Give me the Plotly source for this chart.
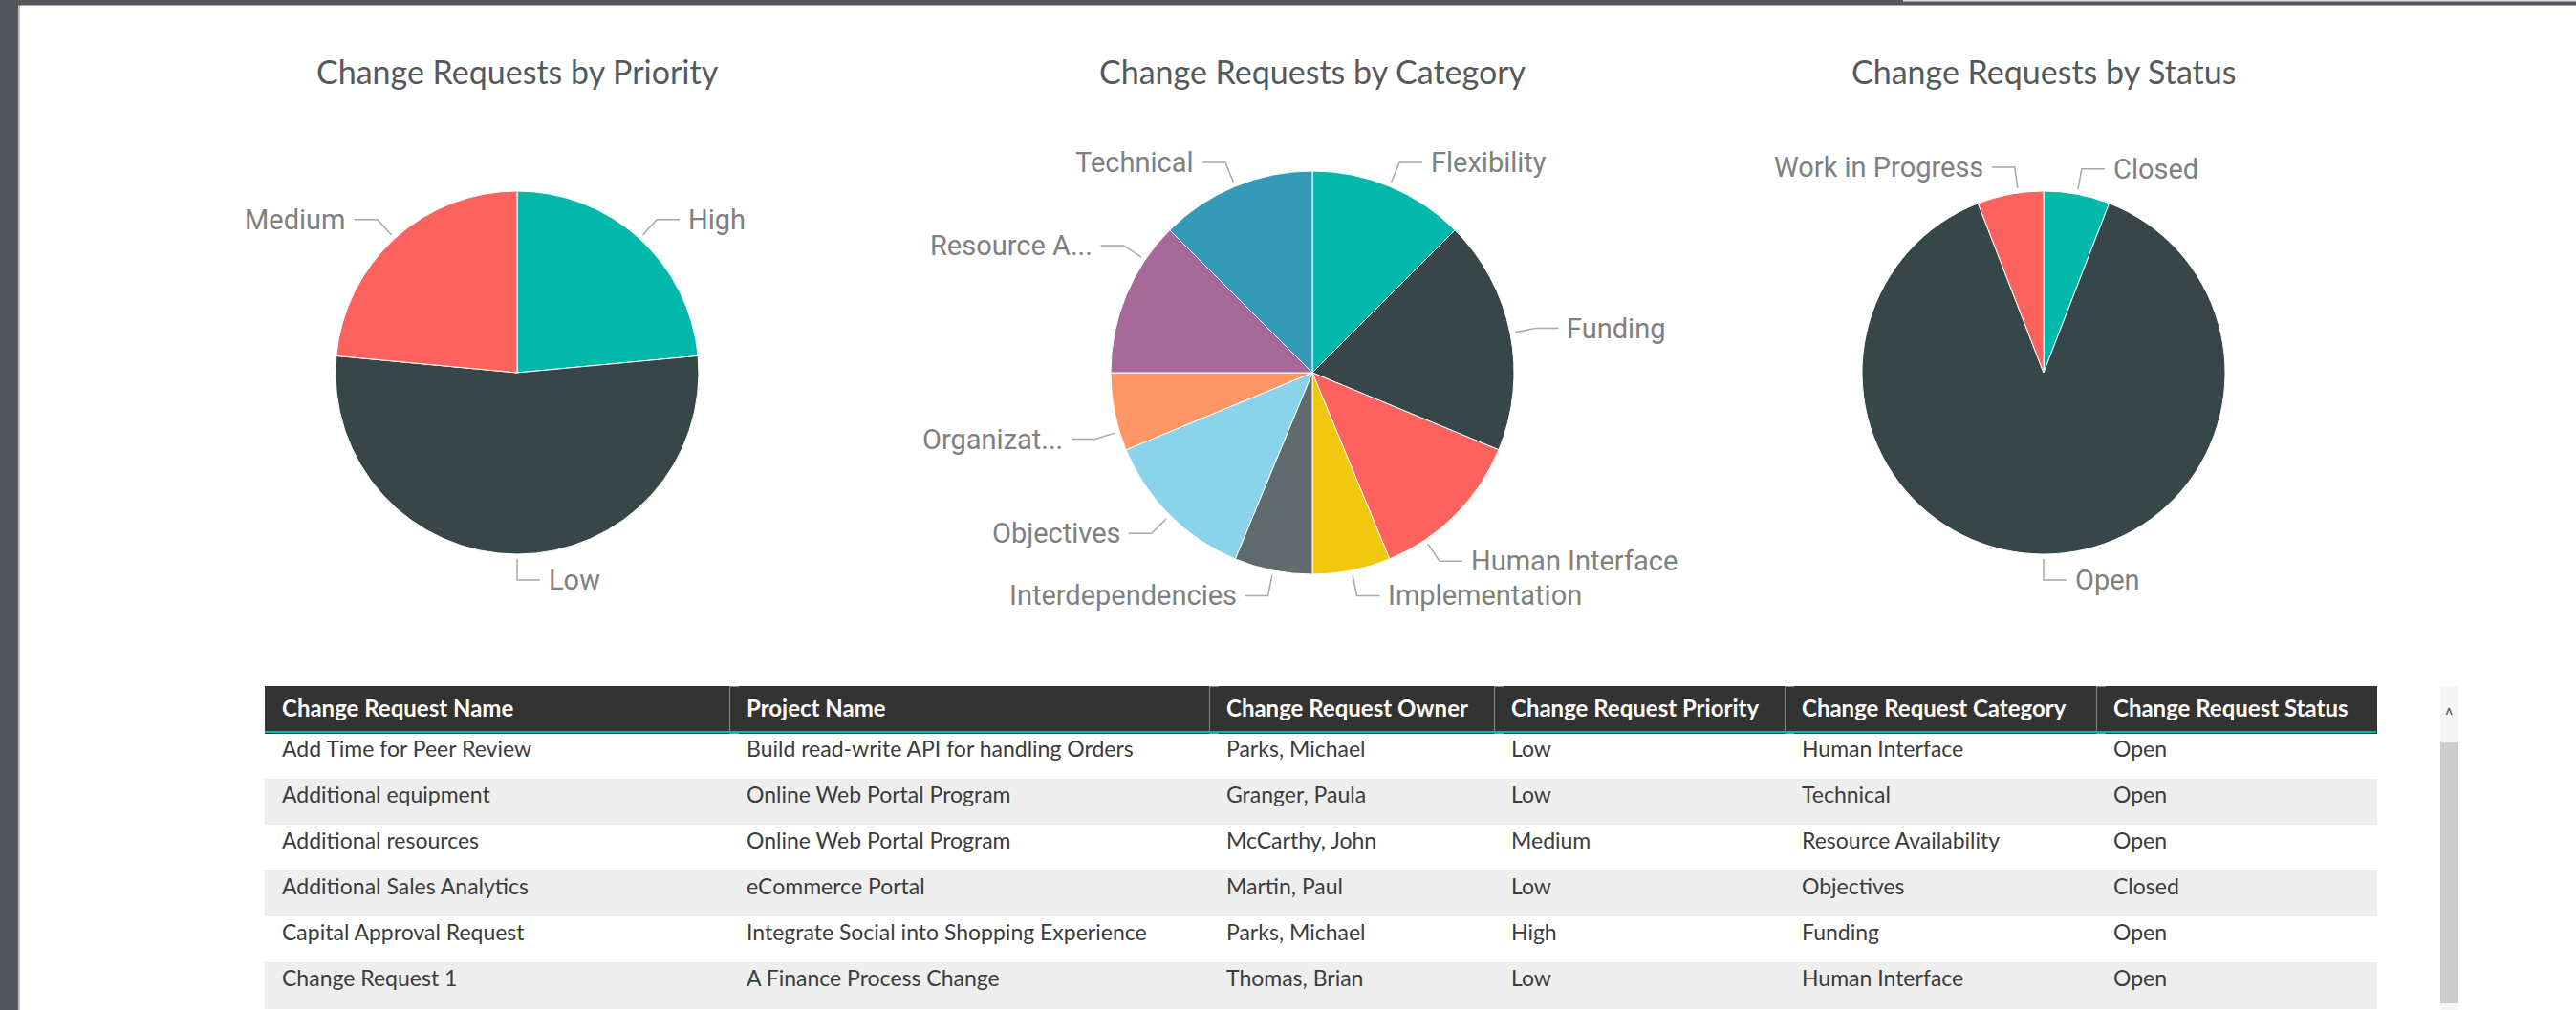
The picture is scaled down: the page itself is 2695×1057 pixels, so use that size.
import math
import plotly.graph_objects as go

W, H = 2695, 1057

# ---------------- data ----------------
priority_labels = ["High", "Low", "Medium"]
priority_counts = [4, 9, 4]

category_labels = ["Flexibility", "Funding", "Human Interface", "Implementation",
                   "Interdependencies", "Objectives", "Organizational",
                   "Resource Availability", "Technical"]
category_counts = [2, 3, 2, 1, 1, 2, 1, 2, 2]

status_labels = ["Closed", "Open", "Work in Progress"]
status_counts = [1, 15, 1]

table_headers = ["Change Request Name", "Project Name", "Change Request Owner",
                 "Change Request Priority", "Change Request Category", "Change Request Status"]
cr_names = ["Add Time for Peer Review", "Additional equipment", "Additional resources",
            "Additional Sales Analytics", "Capital Approval Request", "Change Request 1"]
projects = ["Build read-write API for handling Orders", "Online Web Portal Program",
            "Online Web Portal Program", "eCommerce Portal",
            "Integrate Social into Shopping Experience", "A Finance Process Change"]
owners = ["Parks, Michael", "Granger, Paula", "McCarthy, John", "Martin, Paul",
          "Parks, Michael", "Thomas, Brian"]
priorities = ["Low", "Low", "Medium", "Low", "High", "Low"]
categories = ["Human Interface", "Technical", "Resource Availability", "Objectives",
              "Funding", "Human Interface"]
statuses = ["Open", "Open", "Open", "Closed", "Open", "Open"]

# ---------------- styles ----------------
PAL = ["#01B8AA", "#374649", "#FD625E", "#F2C80F", "#5F6B6D",
       "#8AD4EB", "#FE9666", "#A66999", "#3599B8"]
TITLE_FONT = dict(family="Segoe UI, Lato, sans-serif", size=34, color="#55595b")
LABEL_FONT = dict(family="DIN, Roboto, sans-serif", size=29, color="#808080")
LINE_COLOR = "#a8a8a8"
FRAME = "#53575c"
HEADER_BG = "#333333"
HEADER_SEP = "#8a8a8a"
ROW_BG = ["#ffffff", "#eeeeee"]

display_names = {"Organizational": "Organizat...", "Resource Availability": "Resource A..."}
angle_override = {"Human Interface": 146, "Resource Availability": 304,
                  "Organizational": 253, "Work in Progress": 352}

pies = [
    dict(title="Change Requests by Priority", labels=priority_labels, values=priority_counts,
         cx=541, cy=390, r=190),
    dict(title="Change Requests by Category", labels=category_labels, values=category_counts,
         cx=1373, cy=390, r=211),
    dict(title="Change Requests by Status", labels=status_labels, values=status_counts,
         cx=2138, cy=390, r=190),
]

fig = go.Figure()

# invisible pixel-space axes for decorations
fig.add_trace(go.Scatter(x=[0, W], y=[0, H], mode="markers", marker=dict(opacity=0),
                         hoverinfo="skip", showlegend=False))

shapes = []
annotations = []


def px(x):
    return x / W


def py(y):
    return 1 - y / H


# white report canvas over the dark frame background
shapes.append(dict(type="rect", xref="paper", yref="paper", layer="below",
                   x0=px(20.5), x1=1, y0=0, y1=py(5.5),
                   fillcolor="white", line=dict(width=0)))
shapes.append(dict(type="rect", xref="paper", yref="paper", layer="below",
                   x0=px(19), x1=px(20.5), y0=0, y1=py(5.5),
                   fillcolor="#c4c4c4", line=dict(width=0)))
shapes.append(dict(type="rect", xref="paper", yref="paper", layer="below",
                   x0=px(1991), x1=1, y0=py(1.5), y1=1,
                   fillcolor="#e8dce6", line=dict(width=0)))

for p in pies:
    cx, cy, r = p["cx"], p["cy"], p["r"]
    dom = dict(x=[(cx - r) / W, (cx + r) / W], y=[1 - (cy + r) / H, 1 - (cy - r) / H])
    fig.add_trace(go.Pie(labels=p["labels"], values=p["values"], sort=False,
                         direction="clockwise", rotation=0,
                         marker=dict(colors=PAL[:len(p["labels"])],
                                     line=dict(color="white", width=1)),
                         textinfo="none", domain=dom, showlegend=False,
                         hoverinfo="label+value+percent"))
    annotations.append(dict(x=cx, y=74, xref="x", yref="y", text=p["title"],
                            showarrow=False, font=TITLE_FONT,
                            xanchor="center", yanchor="middle"))
    total = sum(p["values"])
    cum = 0
    for lab, v in zip(p["labels"], p["values"]):
        mid = (cum + v / 2) / total * 360
        cum += v
        ang = math.radians(angle_override.get(lab, mid))
        sx, sy = cx + (r + 5) * math.sin(ang), cy - (r + 5) * math.cos(ang)
        ex, ey = cx + (r + 27) * math.sin(ang), cy - (r + 27) * math.cos(ang)
        side = 1 if math.sin(ang) > -1e-6 else -1
        hx = ex + side * 24
        shapes.append(dict(type="path", xref="x", yref="y",
                           path=f"M {sx},{sy} L {ex},{ey} L {hx},{ey}",
                           line=dict(color=LINE_COLOR, width=1.5)))
        annotations.append(dict(x=hx + side * 7, y=ey, xref="x", yref="y",
                                text=display_names.get(lab, lab), showarrow=False,
                                font=LABEL_FONT,
                                xanchor="left" if side > 0 else "right",
                                yanchor="middle"))

# ---------------- table ----------------
tbl_left, tbl_right, tbl_top = 277, 2486, 718
col_widths = [486, 502, 298, 304, 326, 293]
pad_w = 10  # narrow blank column before each data column -> left text padding
n = len(cr_names)
row_colors = [ROW_BG[i % 2] for i in range(n)]
data_cols = [cr_names, projects, owners, priorities, categories, statuses]

t_widths, t_head, t_vals, t_fill, t_line, h_line = [], [], [], [], [], []
for k, (hdr, vals, w) in enumerate(zip(table_headers, data_cols, col_widths)):
    # spacer column
    t_widths.append(pad_w)
    t_head.append("")
    t_vals.append([""] * n)
    t_fill.append(row_colors)
    t_line.append(row_colors)
    h_line.append(HEADER_BG if k == 0 else HEADER_SEP)
    # data column
    t_widths.append(w - pad_w)
    t_head.append(f"<b>{hdr}</b>")
    t_vals.append(vals)
    t_fill.append(row_colors)
    t_line.append(row_colors)
    h_line.append(HEADER_BG)

fig.add_trace(go.Table(
    domain=dict(x=[tbl_left / W, tbl_right / W], y=[0, 1 - tbl_top / H]),
    columnwidth=t_widths,
    header=dict(values=t_head, fill_color=HEADER_BG,
                line=dict(color=h_line, width=1),
                font=dict(family="Segoe UI, Lato, sans-serif", size=24, color="white"),
                align="left", height=49),
    cells=dict(values=t_vals, fill_color=t_fill, line=dict(color=t_line, width=1),
               font=dict(family="Segoe UI, Lato, sans-serif", size=23, color="#3c3c3c"),
               align="left", height=48),
))

# teal line under header
shapes.append(dict(type="line", xref="x", yref="y", x0=tbl_left, x1=tbl_right,
                   y0=tbl_top + 48, y1=tbl_top + 48, line=dict(color="#01B8AA", width=2)))

# scrollbar decoration
shapes.append(dict(type="rect", xref="x", yref="y", x0=2553, x1=2572, y0=718, y1=H,
                   fillcolor="#f5f5f5", line=dict(width=0), layer="below"))
shapes.append(dict(type="rect", xref="x", yref="y", x0=2553, x1=2572, y0=777, y1=1050,
                   fillcolor="#cdcdcd", line=dict(width=0)))
annotations.append(dict(x=2562, y=748, xref="x", yref="y", text="^", showarrow=False,
                        font=dict(family="Roboto", size=20, color="#666666")))

fig.update_layout(
    width=W, height=H,
    margin=dict(l=0, r=0, t=0, b=0),
    paper_bgcolor=FRAME, plot_bgcolor="rgba(0,0,0,0)",
    xaxis=dict(range=[0, W], visible=False, fixedrange=True, domain=[0, 1]),
    yaxis=dict(range=[H, 0], visible=False, fixedrange=True, domain=[0, 1]),
    shapes=shapes, annotations=annotations,
    showlegend=False,
)

fig.write_html("out.html", config={"displayModeBar": False},
               post_script="document.body.style.margin='0';"
                           "document.body.style.overflow='hidden';")
